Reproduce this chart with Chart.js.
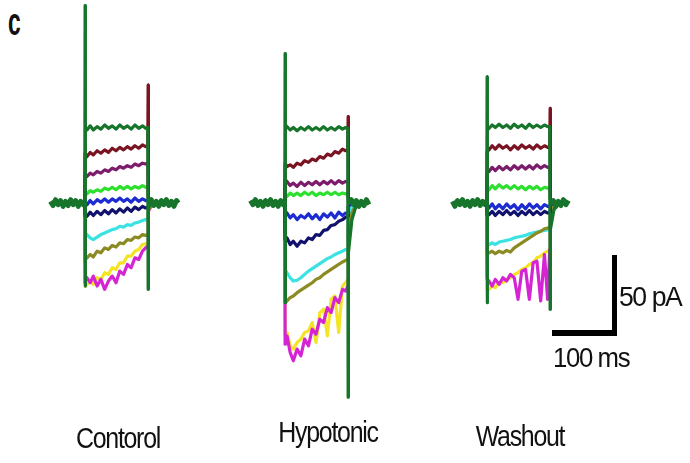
<!DOCTYPE html>
<html>
<head>
<meta charset="utf-8">
<script src="https://cdn.jsdelivr.net/npm/chart.js@4.4.0/dist/chart.umd.min.js"></script>
<style>
body { margin: 0; background: #fff; }
#fig { position: relative; width: 690px; height: 463px; overflow: hidden; background: #fff;
       font-family: "Liberation Sans", Arial, sans-serif; color: #111; }
#fig canvas { position: absolute; top: 0; }
.lbl { position: absolute; white-space: nowrap; line-height: 1; }
.cond { font-size: 29px; letter-spacing: -1.5px; transform: translateX(-50%) scaleX(0.86); }
.bar { position: absolute; background: #000; }
</style>
</head>
<body>
<div id="fig">
  <div class="lbl" style="left:8px; top:3px; font-size:38px; font-weight:bold; transform-origin:left; transform:scaleX(0.6);">c</div>
  <canvas id="ctrl" width="150" height="463" style="left:41px"></canvas>
  <canvas id="hypo" width="150" height="463" style="left:241px"></canvas>
  <canvas id="wash" width="150" height="463" style="left:443px"></canvas>
  <div class="lbl cond" style="left:118px; top:424px;">Contorol</div>
  <div class="lbl cond" style="left:328px; top:418px;">Hypotonic</div>
  <div class="lbl cond" style="left:520px; top:422px;">Washout</div>
  <div class="bar" style="left:612px; top:255px; width:5px; height:81px;"></div>
  <div class="bar" style="left:552px; top:330px; width:65px; height:6px;"></div>
  <div class="lbl" style="left:619px; top:283px; font-size:28px; transform-origin:left; transform:scaleX(0.95); letter-spacing:-1.5px;">50 pA</div>
  <div class="lbl" style="left:553px; top:344px; font-size:28px; transform-origin:left; transform:scaleX(0.92); letter-spacing:-1.5px;">100 ms</div>
</div>
<script>
// time points (ms, relative to step onset)
const traceTimes = [-0.5, 0, 0.1, 0.7, 3, 8, 13, 19, 25, 31, 37, 43, 49, 55, 61, 67, 73, 79, 85, 91, 96, 99.4, 100, 100.1, 100.7, 106, 114];
const baseTimes = [-55, -51, -47, -43, -39, -35, -31, -27, -23, -19, -15, -11, -7, -3, -0.5, 50, 101, 105, 109, 113, 117, 121, 125, 129, 133, 137, 141, 145, 148];

// holding current (pA)
const ctrlBase = [1, -1.5, 2, -1, 1.5, -2, 1, -1.5, 2, -1, 1.5, -2, 1, -1, 0, null, 0, 2, -1.5, 1, -2, 1.5, -1, 2, -1.5, 1, -2, 1.5, 0];
const hypoBase = [1.5, -1, 2, -1.5, 1, -2, 1.5, -1, 2, -1.5, 1, -2, 1.5, -1, 0, null, 0, 2, -1, 1.5, -2, 1, -1.5, 2, -1, null, null, null, null];
const washBase = [1, -2, 1.5, -1, 2, -1.5, 1, -2, 1.5, -1, 2, -1.5, 1, -1, 0, null, 0, 1.5, -2, 1, -1.5, 2, -1, 1.5, null, null, null, null, null];

// step currents (pA), one per voltage step
const ctrlDarkGreen = [0, 119, -50, 44, 44, 46.5, 44, 46, 44.5, 47, 45, 46.5, 44.5, 47, 45, 46.5, 44.5, 47, 45, 46.5, 45, 45.5, -52, -20, -3, 1, 0];
const ctrlMaroon = [0, 30, 30, 29, 28, 30.5, 29, 31.5, 30, 32, 30.5, 33, 31.5, 33.5, 32, 34, 32.5, 34.5, 33, 35, 34, 34.5, 71, 71, 3, 0.5, 0];
const ctrlPurple = [0, 17, 17, 17, 16, 18, 17, 19, 18, 20, 19, 21, 20, 22, 21, 22.5, 21.5, 23.5, 22.5, 24, 23.5, 24, 20, 20, 2, 0, 0];
const ctrlGreen = [0, 6, 6, 6, 5.5, 7.5, 6.5, 8, 7, 9, 8, 9.5, 8, 10, 8.5, 10, 8.5, 10, 9, 10.5, 9.5, 9.5, 5, 5, 1, 0, 0];
const ctrlBlue = [0, -2, -2, -1, -1, 1.5, -0.5, 2, 0.5, 2.5, 0.5, 2.5, 1, 3, 1, 2.5, 0.5, 3, 1, 2.5, 1.5, 1.5, 1.5, 1.5, 0.5, 0, 0];
const ctrlNavy = [0, -8, -8, -8, -8, -5.5, -7.5, -5, -7, -4.5, -6.5, -4, -6, -3.5, -5.5, -3, -5, -2.5, -4, -2, -3, -2.5, -2.5, -2.5, -1, 0, 0];
const ctrlOlive = [0, -35, -35, -34, -33, -31, -32.5, -29, -30, -27, -28, -25.5, -26.5, -24, -24.5, -22, -22.5, -20.5, -21, -19, -19.5, -19, -19, -19, -4, -1, 0];
const ctrlCyan = [0, -18, -18, -18, -19, -21, -22, -20.5, -19, -18, -17, -16, -15.5, -14, -14.5, -13, -13.5, -12, -11.5, -10.5, -10, -10, -10, -10, -2, 0, 0];
const ctrlMagenta = [0, -48, -48, -46, -45, -48, -44, -50, -46, -52, -47, -44, -48, -41, -43, -37, -39, -33, -34, -29, -27, -26, -26, -26, -5, -1, 0];
const ctrlYellow = [0, -50, -50, -49, -49, -47, -49, -45, -46, -42, -43, -39, -40, -36, -36, -32, -32, -29, -28, -25, -24.5, -24, -24, -24, -4, -1, 0];

const hypoDarkGreen = [0, 90, -60, 47, 46, 44, 45.5, 43.5, 45.5, 44, 46, 44, 45.5, 44, 46, 44, 45.5, 44, 46, 44.5, 45.5, 45, -117, -117, -30, -10, 0];
const hypoMaroon = [0, 24, 24, 24, 22, 23, 21.5, 24, 23, 25.5, 24.5, 26.5, 25.5, 28, 27, 29.5, 28.5, 31, 30, 32.5, 31.5, 32, 52, 52, 3, 0.5, 0];
const hypoPurple = [0, 14, 14, 14, 13, 10.5, 12, 10, 12.5, 10.5, 12.5, 11, 13, 11, 13, 11.5, 13.5, 11.5, 13.5, 12, 13, 12.5, 12, 12, 2, 0, 0];
const hypoGreen = [0, 5, 5, 5, 4, 6, 4.5, 6, 4.5, 6.5, 5, 6.5, 4.5, 6, 5, 6.5, 5, 6.5, 5, 6, 5.5, 5.5, 5, 5, 1, 0, 0];
const hypoBlue = [0, -5, -5, -5, -6, -9, -7, -10, -7.5, -9, -6.5, -9.5, -7, -10, -6.5, -8.5, -6, -9, -5.5, -7.5, -6, -6, -6, -6, -1, 0, 0];
const hypoNavy = [0, -22, -22, -21, -21, -25, -23, -26, -23, -24, -21, -22, -19, -19.5, -16.5, -16, -13.5, -13, -11, -10, -8.5, -8, -8, -8, -2, 0, 0];
const hypoOlive = [0, -60, -60, -60, -59, -57, -56, -54, -52.5, -51, -49.5, -48, -46, -45, -43, -41.5, -40, -38.5, -37, -35.5, -34.5, -34, -34, -34, -20, -6, 0];
const hypoCyan = [0, -40, -40, -40, -42, -45, -47, -46.5, -45, -43, -41, -39.5, -38, -36.5, -35, -33.5, -32.5, -31, -30, -29, -28, -28, -28, -28, -10, -2, 0];
const hypoMagenta = [0, -85, -85, -82, -80, -90, -95, -88, -92, -82, -86, -76, -79, -70, -72, -63, -66, -57, -60, -52, -53, -50, -50, -50, -15, -3, 0];
const hypoYellow = [0, -80, -80, -78, -78, -86, -88, -84, -82, -78, -77, -72, -84, -66, -64, -80, -58, -56, -78, -50, -48, -46, -46, -46, -12, -2, 0];

const washDarkGreen = [0, 76, -60, 44, 45, 47, 45.5, 47.5, 45.5, 47, 45, 47.5, 45.5, 47, 45, 47.5, 45.5, 47, 45.5, 47, 46, 46, -64, -64, -16, -4, 0];
const washMaroon = [0, 31, 31, 31, 32, 34.5, 32.5, 35, 33, 34.5, 32, 34.5, 32.5, 35, 33, 34.5, 32.5, 35, 33, 34.5, 33.5, 33.5, 57, 57, 2, 0.5, 0];
const washPurple = [0, 18, 18, 18, 19, 21.5, 19.5, 22, 20, 22, 20, 22.5, 20.5, 22.5, 20.5, 22.5, 20.5, 23, 21, 22.5, 21.5, 21.5, 18, 18, 2, 0, 0];
const washGreen = [0, 10, 10, 9, 8, 10.5, 8.5, 11, 9, 10.5, 8.5, 10.5, 8.5, 10, 8, 10, 8.5, 10, 8, 9.5, 9, 9, 6, 6, 1, 0, 0];
const washBlue = [0, -2, -2, -2, -3, -0.5, -3.5, -1, -3.5, -0.5, -3, -1, -4, -1, -3.5, -0.5, -3, -1, -3.5, -1, -2, -2, -2, -2, -0.5, 0, 0];
const washNavy = [0, -7, -7, -7, -7, -5, -7.5, -5, -7, -4.5, -7, -5, -7.5, -5, -7, -4.5, -7, -5, -7, -5, -6, -6, -6, -6, -1, 0, 0];
const washOlive = [0, -30, -30, -30, -30, -29, -30.5, -29, -30, -28.5, -29.5, -27, -25.5, -24, -22.5, -21, -19.5, -18, -17, -15.5, -15, -14.5, -14.5, -14.5, -4, -1, 0];
const washCyan = [0, -24, -24, -24, -25, -24, -25, -23.5, -23, -22.5, -22, -21, -20.5, -20, -19.5, -18.5, -18, -17.5, -17, -16.5, -16, -16, -16, -16, -3, 0, 0];
const washMagenta = [0, -45, -45, -46, -47, -50, -46, -49, -45, -47, -43, -45, -58, -41, -40, -58, -36, -35, -59, -31, -58, -28, -28, -28, -5, -1, 0];
const washYellow = [0, -52, -52, -52, -52, -50, -51, -48, -48, -46, -45, -43, -42, -40, -39, -37, -36, -33, -32, -30, -29, -28, -28, -28, -5, -1, 0];

// trace colours, first one is drawn on top
const traceColors = ['#17752b', '#7a1422', '#7c1c6c', '#2ee02e', '#1c2cd2', '#12126e', '#8c8a22', '#3ae2e2', '#d424d4', '#f4e424'];

function toPoints(times, values) {
    return times.map((t, i) => ({ x: t, y: values[i] }));
}

function makeChart(id, base, traces) {
    const datasets = [{
        data: toPoints(baseTimes, base),
        borderColor: traceColors[0],
        borderWidth: 5
    }];
    traces.forEach((tr, i) => {
        datasets.push({
            data: toPoints(traceTimes, tr),
            borderColor: traceColors[i],
            borderWidth: 3.2
        });
    });

    new Chart(document.getElementById(id), {
        type: 'line',
        data: { datasets: datasets },
        options: {
            responsive: false,
            animation: false,
            events: [],
            layout: { padding: 0 },
            elements: {
                point: { radius: 0 },
                line: { tension: 0, borderJoinStyle: 'round', fill: false }
            },
            plugins: { legend: { display: false }, tooltip: { enabled: false } },
            scales: {
                x: { type: 'linear', min: -70, max: 168, display: false },
                y: { min: -156.6, max: 122.3, display: false }
            }
        }
    });
}

makeChart('ctrl', ctrlBase, [ctrlDarkGreen, ctrlMaroon, ctrlPurple, ctrlGreen, ctrlBlue, ctrlNavy, ctrlOlive, ctrlCyan, ctrlMagenta, ctrlYellow]);
makeChart('hypo', hypoBase, [hypoDarkGreen, hypoMaroon, hypoPurple, hypoGreen, hypoBlue, hypoNavy, hypoOlive, hypoCyan, hypoMagenta, hypoYellow]);
makeChart('wash', washBase, [washDarkGreen, washMaroon, washPurple, washGreen, washBlue, washNavy, washOlive, washCyan, washMagenta, washYellow]);
</script>
</body>
</html>
